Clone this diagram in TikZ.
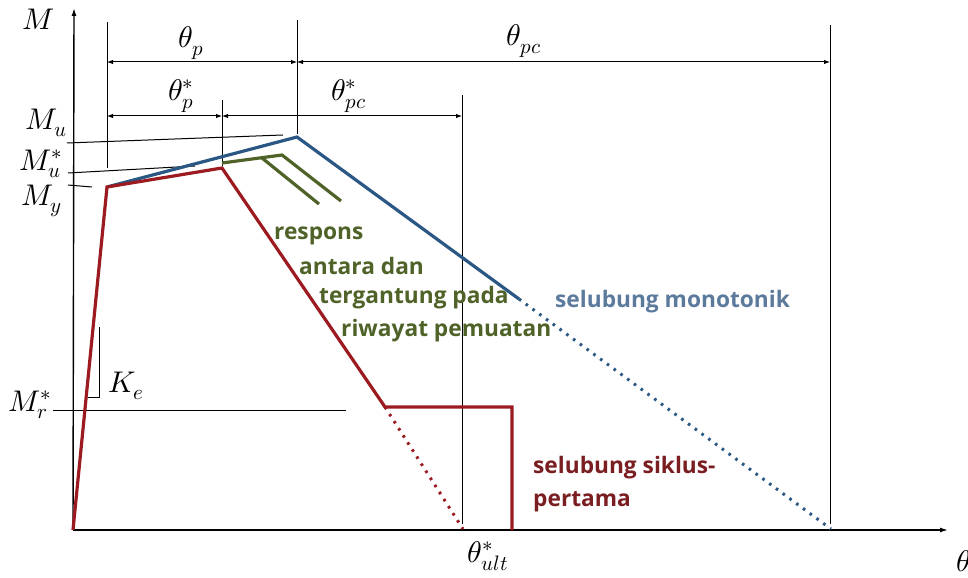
\documentclass[tikz,border=0pt]{standalone}
\usepackage{fontspec}
\usepackage{unicode-math}
\setmathfont{Latin Modern Math}
\newfontfamily\lblfont{Open Sans}
\usetikzlibrary{arrows.meta}
\definecolor{redc}{HTML}{9B1B20}
\definecolor{bluec}{HTML}{2A5783}
\definecolor{greenc}{HTML}{4F6228}
\definecolor{bluetxt}{HTML}{5B7A9C}
\definecolor{redtxt}{HTML}{7A1E22}
\tikzset{
  thin line/.style={line width=1bp, black},
  axis line/.style={line width=1.4bp, black},
  dim arrow/.style={line width=1bp, black, {Latex[length=6bp,width=4.5bp]}-{Latex[length=6bp,width=4.5bp]}},
  curve/.style={line width=3.2bp, line join=miter},
  dotcurve/.style={line width=3bp, dash pattern=on 2.6bp off 5.8bp},
  mathlbl/.style={font=\fontsize{30}{35}\selectfont, inner sep=0pt},
  txtlbl/.style={font=\lblfont\bfseries\fontsize{22.8}{27}\selectfont, inner sep=0pt, anchor=west},
}
\begin{document}
\begin{tikzpicture}[x=1bp,y=-1bp]
\useasboundingbox (0,0) rectangle (968,578);
% key points
\coordinate (O) at (73,530);
\coordinate (Ytop) at (74,8);
\coordinate (Xend) at (948,530);
\coordinate (Yld) at (107,187);
\coordinate (Rpk) at (222,168);
\coordinate (Bpk) at (297,137);
\coordinate (Bsol) at (519,299);
\coordinate (Bend) at (831,529);
\coordinate (Rres) at (385,407);
\coordinate (Rres2) at (512,407);
\coordinate (Rult) at (512,530);
\coordinate (Rdot) at (463,529);
\coordinate (G0) at (222,163);
\coordinate (Gpk) at (282,155);
\coordinate (Gend) at (341,201);
\coordinate (Gi0) at (262,158);
\coordinate (Giend) at (319,204);
% axes
\draw[axis line,-{Latex[length=8bp,width=5bp]}] (O) -- (Ytop);
\draw[axis line,-{Latex[length=8bp,width=5bp]}] (O) -- (Xend);
% extension lines
\coordinate (v1t) at (107,22);  \coordinate (v1b) at (107,168);
\coordinate (v2t) at (222,100); \coordinate (v2b) at (222,166);
\coordinate (v3t) at (297,20);  \coordinate (v3b) at (297,134);
\coordinate (v4t) at (462,95);  \coordinate (v4b) at (462,524);
\coordinate (v5t) at (830,25);  \coordinate (v5b) at (830,524);
\draw[thin line] (v1t) -- (v1b);
\draw[thin line] (v2t) -- (v2b);
\draw[thin line] (v3t) -- (v3b);
\draw[thin line] (v4t) -- (v4b);
\draw[thin line] (v5t) -- (v5b);
% dimension arrows
\coordinate (a1l) at (107,62); \coordinate (a1r) at (297,62);
\coordinate (a2r) at (830,62);
\coordinate (b1l) at (107,116); \coordinate (b1r) at (222,116);
\coordinate (b2r) at (462,116);
\draw[dim arrow] (a1l) -- (a1r);
\draw[dim arrow] (a1r) -- (a2r);
\draw[dim arrow] (b1l) -- (b1r);
\draw[dim arrow] (b1r) -- (b2r);
% level lines
\coordinate (mu1) at (67,143); \coordinate (mu2) at (283,135);
\coordinate (mus1) at (68,173); \coordinate (mus2) at (195,166);
\coordinate (my1) at (68,185); \coordinate (my2) at (92,187);
\coordinate (mr1) at (53,410); \coordinate (mr2) at (346,410);
\draw[thin line] (mu1) -- (mu2);
\draw[thin line] (mus1) -- (mus2);
\draw[thin line] (my1) -- (my2);
\draw[thin line] (mr1) -- (mr2);
% stiffness triangle
\coordinate (k1) at (88,397); \coordinate (k2) at (99,397); \coordinate (k3) at (99,327);
\draw[thin line] (k1) -- (k2) -- (k3);
% curves
\draw[curve, bluec] (Yld) -- (Bpk) -- (Bsol);
\draw[dotcurve, bluec] (Bsol) -- (Bend);
\draw[curve, greenc] (G0) -- (Gpk) -- (Gend);
\draw[curve, greenc] (Gi0) -- (Giend);
\draw[curve, redc] (O) -- (Yld) -- (Rpk) -- (Rres) -- (Rres2) -- (Rult);
\draw[dotcurve, redc] (Rres) -- (Rdot);
% math labels
\node[mathlbl] (lM) at (39,19) {$M$};
\node[mathlbl] (lMu) at (46,123) {$M_u$};
\node[mathlbl] (lMus) at (41,164) {$M_u^*$};
\node[mathlbl] (lMy) at (42,201) {$M_y$};
\node[mathlbl] (lMr) at (30,405) {$M_r^*$};
\node[mathlbl] (lKe) at (126,386) {$K_e$};
\node[mathlbl] (ltp) at (191,43) {$\theta_p$};
\node[mathlbl] (ltps) at (181,96) {$\theta_p^*$};
\node[mathlbl] (ltpc) at (524,41) {$\theta_{pc}$};
\node[mathlbl] (ltpcs) at (349,96) {$\theta_{pc}^*$};
\node[mathlbl] (ltult) at (488,556) {$\theta_{ult}^*$};
\node[mathlbl, anchor=west] (lth) at (956,561) {$\theta$};
% text labels
\node[txtlbl, greenc] (g1) at (274,236) {respons};
\node[txtlbl, greenc] (g2) at (299,266) {antara dan};
\node[txtlbl, greenc] (g3) at (319,298) {tergantung pada};
\node[txtlbl, greenc] (g4) at (341,331) {riwayat pemuatan};
\node[txtlbl, bluetxt] (bt) at (555,302) {selubung monotonik};
\node[txtlbl, redtxt] (r1) at (533,468) {selubung siklus-};
\node[txtlbl, redtxt] (r2) at (533,502) {pertama};
\end{tikzpicture}
\end{document}
